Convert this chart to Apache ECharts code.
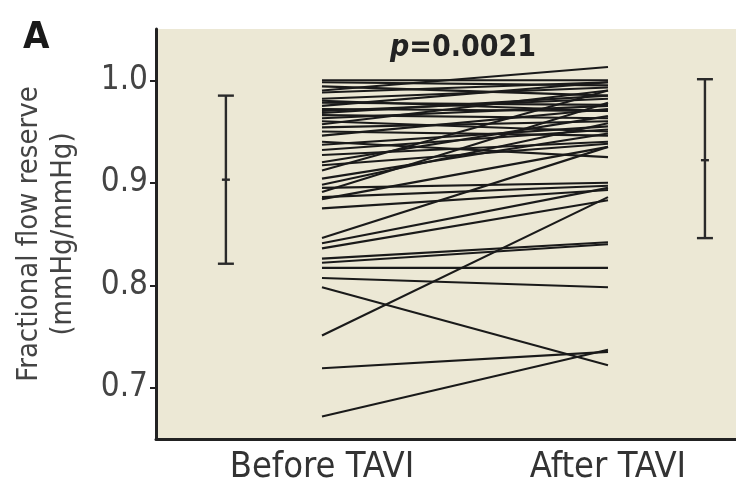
<!DOCTYPE html>
<html><head><meta charset="utf-8">
<script src="https://cdn.jsdelivr.net/npm/echarts@6/dist/echarts.min.js"></script>
<style>html,body{margin:0;padding:0;background:#fff}#c{width:736px;height:491px}</style>
</head><body><div id="c"></div>
<script>
const categories = ['Before TAVI', 'After TAVI'];
const yTicks = [0.7, 0.8, 0.9, 1.0];
const beforeVals = [1.000,0.998,0.994,0.990,0.988,0.982,0.980,0.978,0.975,0.972,0.970,0.968,0.966,0.963,0.960,0.957,0.954,0.950,0.946,0.940,0.937,0.932,0.927,0.920,0.917,0.912,0.904,0.898,0.895,0.891,0.886,0.884,0.875,0.846,0.841,0.836,0.826,0.822,0.817,0.807,0.798,0.751,0.719,0.672];
const afterVals  = [1.000,0.995,0.985,1.013,0.998,0.993,0.970,0.976,0.998,0.970,0.982,0.985,0.963,0.975,0.950,0.990,0.960,0.946,0.972,0.925,0.955,0.952,0.940,0.965,0.938,0.990,0.948,0.958,0.900,0.978,0.897,0.935,0.893,0.935,0.895,0.883,0.842,0.840,0.817,0.798,0.722,0.886,0.735,0.737];
// error bars: [lower, mean, upper]
const beforeStats = [0.821, 0.903, 0.985];
const afterStats  = [0.846, 0.922, 1.001];
const pText = '0.0021';

const posBefore = 1, posAfter = 2, errBefore = 0.664, errAfter = 2.339;

const series = [];
for (let i = 0; i < beforeVals.length; i++) {
  series.push({
    type: 'line', data: [[posBefore, beforeVals[i]], [posAfter, afterVals[i]]],
    symbol: 'none', silent: true,
    lineStyle: { color: '#1a1a1a', width: 2.1 }
  });
}
series.push({
  type: 'custom',
  data: [[errBefore].concat(beforeStats), [errAfter].concat(afterStats)],
  renderItem: function (params, api) {
    const x = api.value(0);
    const lo = api.coord([x, api.value(1)]);
    const m = api.coord([x, api.value(2)]);
    const hi = api.coord([x, api.value(3)]);
    const st = { stroke: '#2a2a2a', lineWidth: 2.4 };
    const cw = 8, mw = 4;
    return { type: 'group', children: [
      { type: 'line', shape: { x1: lo[0], y1: lo[1], x2: hi[0], y2: hi[1] }, style: st },
      { type: 'line', shape: { x1: hi[0] - cw, y1: hi[1], x2: hi[0] + cw, y2: hi[1] }, style: st },
      { type: 'line', shape: { x1: lo[0] - cw, y1: lo[1], x2: lo[0] + cw, y2: lo[1] }, style: st },
      { type: 'line', shape: { x1: m[0] - mw, y1: m[1], x2: m[0] + mw, y2: m[1] }, style: st }
    ]};
  },
  silent: true
});

const font = '"Liberation Sans Narrow","DejaVu Sans Condensed","Roboto Condensed",sans-serif';
const chart = echarts.init(document.getElementById('c'), null, { renderer: 'canvas' });
chart.setOption({
  animation: false,
  backgroundColor: '#ffffff',
  title: [
    { text: 'A', left: 18, top: 14, textStyle: { fontFamily: font, fontWeight: 'bold', fontSize: 38, color: '#1a1a1a' } },
    { text: '{p|p}{n|=' + pText + '}', left: 385, top: 28,
      textStyle: { rich: {
        p: { fontFamily: font, fontWeight: 'bold', fontStyle: 'italic', fontSize: 30, color: '#222' },
        n: { fontFamily: font, fontWeight: 'bold', fontSize: 30, color: '#222' } } } }
  ],
  grid: { left: 156, right: 0, top: 29, bottom: 52, show: true, backgroundColor: '#ece8d5', borderWidth: 0 },
  xAxis: {
    type: 'value', min: 0.4196, max: 2.4476,
    axisLine: { show: true, lineStyle: { color: '#222', width: 3 } },
    axisTick: { show: false },
    splitLine: { show: false },
    axisLabel: { customValues: [posBefore, posAfter], formatter: function (v) { return v === posBefore ? categories[0] : categories[1]; },
      fontFamily: font, fontSize: 36, color: '#333', margin: 11 }
  },
  yAxis: {
    type: 'value', min: 0.65, max: 1.05,
    name: 'Fractional flow reserve\n(mmHg/mmHg)', nameLocation: 'middle', nameGap: 76,
    nameTextStyle: { fontFamily: font, fontSize: 29, color: '#444', lineHeight: 34 },
    axisLine: { show: true, lineStyle: { color: '#222', width: 3 } },
    axisTick: { show: true, customValues: yTicks, length: 6, lineStyle: { color: '#222', width: 2 } },
    splitLine: { show: false },
    axisLabel: { customValues: yTicks, formatter: function (v) { return v.toFixed(1); },
      fontFamily: font, fontSize: 33, color: '#444', margin: 8 }
  },
  series: series
});
</script>
</body></html>
